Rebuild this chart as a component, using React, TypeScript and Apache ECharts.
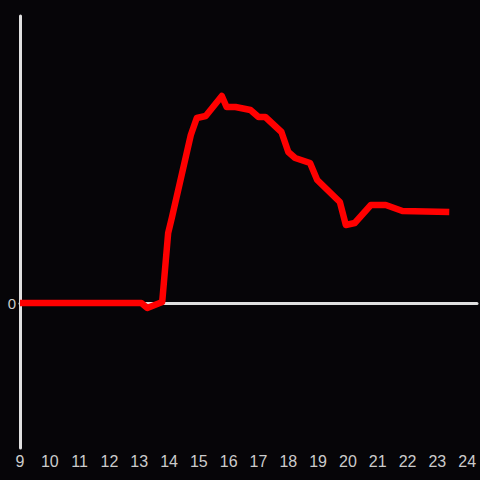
import React, { useEffect, useRef } from "react";
import * as echarts from "echarts";

const hours = [9.0, 12.87, 13.07, 13.27, 13.77, 13.97, 14.1, 14.73, 14.93, 15.23, 15.77, 15.93, 16.23, 16.73, 17.0, 17.23, 17.77, 18.0, 18.23, 18.73, 18.97, 19.73, 19.93, 20.23, 20.77, 21.27, 21.83, 23.4];
const values = [0, 0, 0, -5, 1, 70, 86, 168, 185, 187, 207, 196, 196, 193, 186, 186, 171, 151, 145, 140, 123, 101, 78, 80, 98, 98, 92, 91];
const yLabels = [0];

export default function App() {
  const ref = useRef<HTMLDivElement>(null);
  useEffect(() => {
    const chart = echarts.init(ref.current!, null, { renderer: "svg" });
    chart.setOption({
      animation: false,
      backgroundColor: "#060508",
      grid: { left: 20, right: 0, top: 16, bottom: 32 },
      xAxis: [
        {
          type: "value",
          min: 9,
          max: 24.33,
          interval: 1,
          position: "bottom",
          axisLine: { show: false, onZero: false },
          axisTick: { show: false },
          splitLine: { show: false },
          axisLabel: {
            color: "#cccccc",
            fontSize: 16,
            margin: 5,
            fontFamily: "Liberation Sans, Arial, sans-serif",
            formatter: (v: number) => (Number.isInteger(v) ? String(v) : ""),
          },
        },
        {
          type: "value",
          min: 9,
          max: 24.33,
          position: "bottom",
          axisLine: { show: true, onZero: true, lineStyle: { color: "#e0e0e0", width: 3 } },
          axisTick: { show: false },
          splitLine: { show: false },
          axisLabel: { show: false },
        },
      ],
      yAxis: {
        type: "value",
        min: -145,
        max: 287,
        axisLine: { show: true, lineStyle: { color: "#e0e0e0", width: 3 } },
        axisTick: { show: false },
        splitLine: { show: false },
        axisLabel: {
          customValues: yLabels,
          color: "#cccccc",
          fontSize: 15,
          margin: 4,
          fontFamily: "Liberation Sans, Arial, sans-serif",
        },
      },
      series: [
        {
          type: "line",
          xAxisIndex: 0,
          data: hours.map((h, i) => [h, values[i]]),
          showSymbol: false,
          lineStyle: { color: "#ff0000", width: 6.5, join: "round" },
          z: 5,
        },
      ],
    });
    return () => chart.dispose();
  }, []);
  return <div ref={ref} style={{ width: 480, height: 480, position: "fixed", left: 0, top: 0 }} />;
}
